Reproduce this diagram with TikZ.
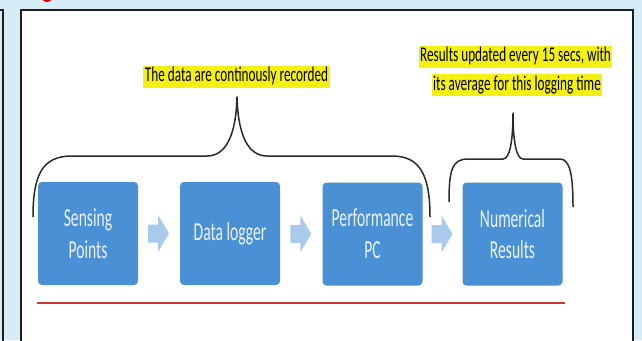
\documentclass[tikz,border=0pt]{standalone}
\usepackage{fontspec}
\setmainfont{Carlito}
\newfontfamily\boxfont[FakeStretch=0.6]{Carlito}
\newfontfamily\notefont[FakeStretch=0.63]{Carlito}
\usetikzlibrary{calc}
\definecolor{bgblue}{RGB}{214,237,248}
\definecolor{boxblue}{RGB}{74,144,212}
\definecolor{arrblue}{RGB}{170,202,236}
\definecolor{hlyellow}{RGB}{245,240,20}
\definecolor{braceclr}{RGB}{45,40,40}
\definecolor{redline}{RGB}{205,55,50}
\definecolor{framec}{RGB}{30,30,30}
\definecolor{boxtext}{RGB}{236,242,250}
\begin{document}
\begin{tikzpicture}[x=1pt,y=-1pt,
  stepbox/.style={fill=boxblue, rounded corners=4pt, minimum width=100pt, minimum height=103pt, inner sep=0pt, align=center, text=boxtext, font=\boxfont\fontsize{26}{31.7}\selectfont},
  note/.style={fill=hlyellow, inner xsep=1.5pt, inner ysep=1pt, text height=15pt, text depth=5pt, font=\notefont\fontsize{21}{25}\selectfont, text=black},
  bracestyle/.style={draw=braceclr, line width=1.5pt, line join=round},
  flowarrow/.style={fill=arrblue}
]
\useasboundingbox (0,0) rectangle (642,340);
\fill[bgblue] (0,0) rectangle (642,340);
\fill[white] (21,10) rectangle (633,345);
\draw[framec, line width=2.2pt] (21,350) -- (21,10) -- (633,10) -- (633,350);
\draw[framec, line width=2pt] (-2,10) -- (3,10) -- (3,350);
\fill[red!85!black] (47,-4) circle (6pt);

\node[stepbox] (s1) at (88,233.5) {Sensing\\Points};
\node[stepbox] (s2) at (230,233.5) {Data logger};
\node[stepbox] (s3) at (372.5,234) {Performance\\PC};
\node[stepbox] (s4) at (512.5,234) {Numerical\\Results};

\foreach \a/\b/\n in {s1/s2/m1, s2/s3/m2, s3/s4/m3} {
  \coordinate (\n) at ($(\a.east)!0.5!(\b.west)$);
  \fill[flowarrow] ($(\n)+(-11,-9)$) -- ++(10,0) -- ++(0,-9.5) -- ++(11,18.5) -- ++(-11,18.5) -- ++(0,-9.5) -- ++(-10,0) -- cycle;
}

\node[note] (n1) at (236.5,76.5) {The data are continously recorded};
\node[note] (n2) at (515.5,56.5) {Results updated every 15 secs, with};
\node[note] (n3) at (517,85) {its average for this logging time};

\draw[bracestyle] (33,217) .. controls (33,175) and (42,156) .. (72,156) -- (207,156)
  .. controls (226,156) and (236,135) .. (237,97)
  .. controls (238,135) and (248,156) .. (267,156) -- (392,156)
  .. controls (420,156) and (430,175) .. (430,217);
\draw[bracestyle] (449,202) .. controls (449,170) and (452,159) .. (468,159) -- (503,159)
  .. controls (510,159) and (513,140) .. (513,113)
  .. controls (513,140) and (516,159) .. (523,159) -- (560,159)
  .. controls (570,159) and (573,175) .. (573,207);

\draw[redline, line width=2pt] (37,302.5) -- (565,302.5);
\end{tikzpicture}
\end{document}
